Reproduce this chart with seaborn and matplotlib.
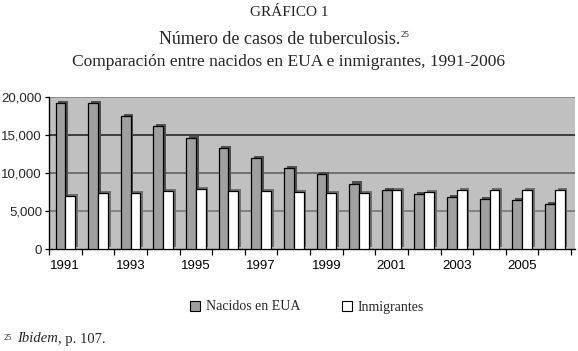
import matplotlib
matplotlib.use("Agg")
import matplotlib.pyplot as plt
import matplotlib.patheffects as pe
from matplotlib.patches import Patch
import seaborn as sns
import pandas as pd

years = list(range(1991, 2007))
nacidos = [19200, 19200, 17400, 16100, 14600, 13300, 11900, 10600,
           9800, 8600, 7700, 7200, 6800, 6600, 6400, 5900]
inmigrantes = [7000, 7300, 7300, 7600, 7900, 7600, 7600, 7500,
               7400, 7400, 7800, 7500, 7800, 7700, 7700, 7700]
series_names = ["Nacidos en EUA", "Inmigrantes"]
yticks = [0, 5000, 10000, 15000, 20000]

df = pd.DataFrame({
    "year": [str(y) for y in years] * 2,
    "casos": nacidos + inmigrantes,
    "serie": [series_names[0]] * len(years) + [series_names[1]] * len(years),
})

sns.set_theme(style="white")
plt.rcParams["font.family"] = ["Liberation Serif", "DejaVu Serif"]

fig = plt.figure(figsize=(5.78, 3.51), dpi=100)
ax = fig.add_axes([49 / 578, 1 - 249 / 351, 526 / 578, (249 - 96.7) / 351])
ax.set_facecolor("#c0c0c0")

sns.barplot(data=df, x="year", y="casos", hue="serie", hue_order=series_names,
            palette=["#a0a0a0", "#ffffff"], width=0.6, dodge=True,
            edgecolor="black", linewidth=0.9, legend=False, ax=ax, zorder=3)

shadow_cols = ["#505050", "#707070"]
n = len(years)
for i, p in enumerate(ax.patches[: 2 * n]):
    col = shadow_cols[0] if i < n else shadow_cols[1]
    p.set_path_effects([
        pe.SimplePatchShadow(offset=(2.0, 1.5), shadow_rgbFace=col, alpha=1.0),
        pe.Normal(),
    ])

grid_colors = {5000: "#707070", 10000: "#5a5a5a", 15000: "#1a1a1a", 20000: "#808080"}
for v, c in grid_colors.items():
    ax.axhline(v, color=c, lw=1.1, zorder=1)

ax.set_ylim(0, 20000)
ax.set_xlim(-0.5, 15.62)
ax.set_yticks(yticks)
ax.set_yticklabels([f"{v:,}" for v in yticks], fontfamily="Liberation Sans", fontsize=9.5)
ax.set_xticks(range(0, n, 2))
ax.set_xticklabels([str(y) for y in years[::2]], fontfamily="Liberation Sans", fontsize=9.5)
ax.set_xticks([i - 0.5 for i in range(n + 1)], minor=True)
ax.tick_params(axis="x", which="major", length=0, pad=8, colors="black")
ax.tick_params(axis="x", which="minor", length=4, width=0.9, direction="out", color="black", bottom=True)
ax.tick_params(axis="y", length=3, width=0.9, direction="out", color="black", left=True, pad=2)
ax.set_xlabel("")
ax.set_ylabel("")
for s in ["top", "right"]:
    ax.spines[s].set_visible(False)
for s in ["left", "bottom"]:
    ax.spines[s].set_color("black")
    ax.spines[s].set_linewidth(1.0)

fig.text(0.5, 1 - 12 / 351, "GRÁFICO 1", ha="center", va="center", fontsize=11)
fig.text(280 / 578, 1 - 40 / 351, "Número de casos de tuberculosis.", ha="center", va="center", fontsize=13)
fig.text(401 / 578, 1 - 35 / 351, "25", ha="left", va="center", fontsize=6.5)
fig.text(0.5, 1 - 62 / 351, "Comparación entre nacidos en EUA e inmigrantes, 1991-2006",
         ha="center", va="center", fontsize=12.5)

handles = [Patch(facecolor="#a0a0a0", edgecolor="black", linewidth=0.8),
           Patch(facecolor="#ffffff", edgecolor="black", linewidth=0.8)]
fig.legend(handles, series_names, loc="center", bbox_to_anchor=(307 / 578, 1 - 307 / 351),
           ncol=2, frameon=False, fontsize=10, handlelength=0.75, handleheight=0.75,
           handletextpad=0.4, columnspacing=3.0)

fig.text(4 / 578, 1 - 338 / 351, "25", ha="left", va="center", fontsize=6)
fig.text(17 / 578, 1 - 339 / 351, "Ibidem", ha="left", va="center", fontsize=10.5, style="italic")
fig.text(58 / 578, 1 - 339 / 351, ", p. 107.", ha="left", va="center", fontsize=10.5)

fig.savefig("out.png", dpi=100)
